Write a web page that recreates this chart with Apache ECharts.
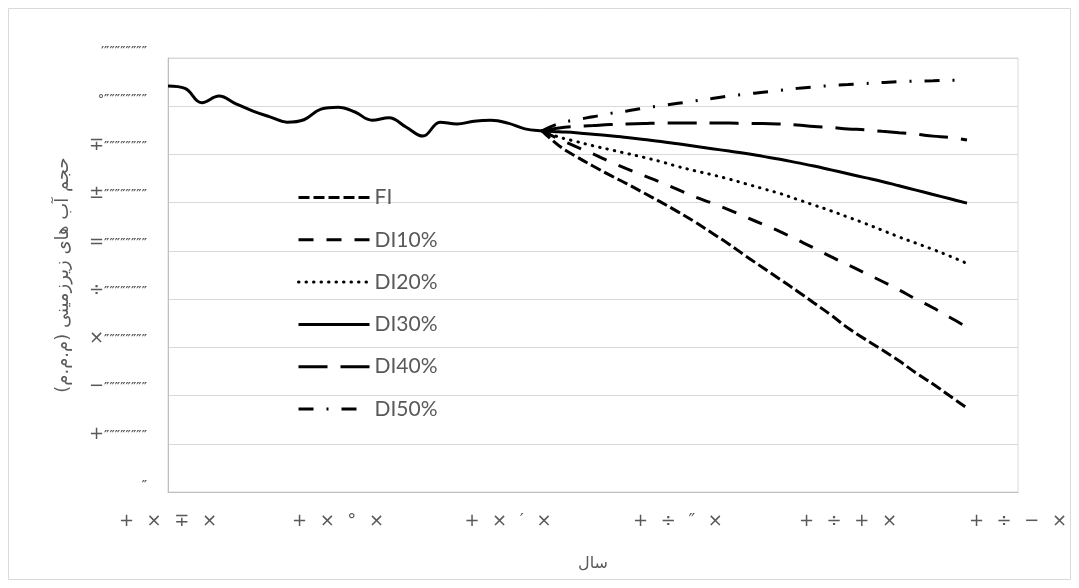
<!DOCTYPE html>
<html>
<head>
<meta charset="utf-8">
<script src="https://cdn.jsdelivr.net/npm/echarts@6/dist/echarts.min.js"></script>
<style>html,body{margin:0;padding:0;background:#fff}#c{width:1079px;height:588px}</style>
</head>
<body>
<div id="c"></div>
<script>
// Categories (Persian years)
const categories = [1373,1374,1375,1376,1377,1378,1379,1380,1381,1382,1383,1384,1385,1386,1387,1388,1389,1390,1391,1392,1393,1394,1395,1396,1397,1398,1399,1400,1401,1402,1403,1404,1405,1406,1407,1408,1409,1410,1411,1412,1413,1414,1415,1416,1417,1418,1419,1420,1421,1422,1423];

// Tick labels as they appear (symbol-font digits)
const xTickLabels = ['+×∓×','+×°×','+×′×','+÷″×','+÷+×','+÷−×'];
const yTickLabels = ['″','+″″″″″″″″','−″″″″″″″″','×″″″″″″″″','÷″″″″″″″″','=″″″″″″″″','±″″″″″″″″','∓″″″″″″″″','°″″″″″″″″','′″″″″″″″″'];

// Observed period
const historyYears = [1373,1374,1375,1376,1377,1378,1379,1380,1381,1382,1383,1384,1385,1386,1387,1388,1389,1390,1391,1392,1393,1394,1395];
const historyValues = [8.42,8.37,8.07,8.21,8.05,7.90,7.78,7.67,7.72,7.94,7.98,7.88,7.71,7.76,7.57,7.38,7.67,7.63,7.69,7.71,7.65,7.53,7.49];

// Projection period
const projYears = [1395,1396,1397,1398,1399,1400,1401,1402,1403,1404,1405,1406,1407,1408,1409,1410,1411,1412,1413,1414,1415,1416,1417,1418,1419,1420];
const fiValues    = [7.49,7.18,6.96,6.76,6.57,6.39,6.20,6.01,5.81,5.60,5.37,5.14,4.89,4.65,4.41,4.17,3.92,3.67,3.40,3.17,2.95,2.72,2.47,2.24,1.99,1.74];
const di10Values  = [7.49,7.32,7.16,7.01,6.85,6.70,6.56,6.42,6.27,6.12,5.99,5.85,5.70,5.55,5.40,5.23,5.06,4.88,4.71,4.54,4.37,4.19,4.00,3.82,3.62,3.42];
const di20Values  = [7.49,7.36,7.27,7.18,7.10,7.02,6.94,6.85,6.75,6.66,6.58,6.49,6.39,6.29,6.19,6.07,5.95,5.83,5.70,5.57,5.43,5.29,5.16,5.03,4.89,4.74];
const di30Values  = [7.49,7.47,7.45,7.42,7.39,7.35,7.31,7.27,7.22,7.17,7.12,7.07,7.02,6.96,6.90,6.83,6.76,6.68,6.60,6.52,6.44,6.35,6.26,6.17,6.08,5.99];
const di40Values  = [7.49,7.55,7.58,7.60,7.62,7.63,7.64,7.65,7.65,7.65,7.65,7.65,7.64,7.64,7.63,7.61,7.58,7.56,7.53,7.51,7.48,7.45,7.42,7.38,7.35,7.30];
const di50Values  = [7.49,7.64,7.72,7.78,7.85,7.90,7.96,8.01,8.06,8.11,8.16,8.21,8.25,8.29,8.33,8.37,8.40,8.43,8.45,8.47,8.49,8.51,8.52,8.53,8.54,8.54];

const seriesNames = ['FI','DI10%','DI20%','DI30%','DI40%','DI50%'];

function aligned(pairsList) {
  const arr = categories.map(() => null);
  pairsList.forEach(([ys, vs]) => ys.forEach((y, i) => { arr[categories.indexOf(y)] = vs[i]; }));
  return arr;
}

const lineTypes = {
  'FI':    {type: [11, 4], cap: 'butt'},
  'DI10%': {type: [15, 13], cap: 'butt'},
  'DI20%': {type: [0.5, 7], cap: 'round'},
  'DI30%': {type: 'solid', cap: 'butt'},
  'DI40%': {type: [29, 13], cap: 'butt'},
  'DI50%': {type: [15, 13, 2, 13], cap: 'butt'}
};

const dataMap = {
  'FI': aligned([[projYears, fiValues]]),
  'DI10%': aligned([[projYears, di10Values]]),
  'DI20%': aligned([[projYears, di20Values]]),
  'DI30%': aligned([[historyYears, historyValues], [projYears, di30Values]]),
  'DI40%': aligned([[projYears, di40Values]]),
  'DI50%': aligned([[projYears, di50Values]])
};

const chart = echarts.init(document.getElementById('c'), null, {renderer: 'canvas'});
chart.setOption({
  backgroundColor: '#fff',
  animation: false,
  graphic: [{
    type: 'rect', shape: {x: 8.5, y: 8.5, width: 1062, height: 571},
    style: {fill: 'none', stroke: '#d9d9d9', lineWidth: 1}, silent: true, z: -1
  }],
  grid: {left: 168, right: 61, top: 58, bottom: 96, show: true, borderColor: '#d9d9d9', borderWidth: 1, containLabel: false},
  legend: {
    orient: 'vertical', left: 297, top: 187, padding: 0,
    itemWidth: 71, itemHeight: 21, itemGap: 21.3,
    data: seriesNames,
    textStyle: {fontFamily: 'Lato', fontSize: 21, color: '#595959'},
    itemStyle: {opacity: 0},
    lineStyle: {width: 3},
    selectedMode: false
  },
  xAxis: {
    type: 'category', data: categories, boundaryGap: false,
    name: 'سال', nameLocation: 'middle', nameGap: 64,
    nameTextStyle: {fontFamily: 'DejaVu Sans', fontSize: 16, color: '#595959'},
    axisLine: {show: true, lineStyle: {color: '#bfbfbf', width: 1}},
    axisTick: {show: false},
    splitLine: {show: false},
    axisLabel: {
      interval: 9, margin: 20,
      fontFamily: 'DejaVu Sans', fontSize: 18, color: '#595959',
      formatter: (v, i) => xTickLabels[Math.round(i / 10)].split('').join('\u2002\u2009')
    }
  },
  yAxis: {
    type: 'value', min: 0, max: 9, interval: 1,
    name: 'حجم آب های زیرزمینی (م.م.م)', nameLocation: 'middle', nameGap: 96, nameRotate: 90,
    nameTextStyle: {fontFamily: 'DejaVu Sans', fontSize: 18, color: '#595959'},
    axisLine: {show: true, lineStyle: {color: '#bfbfbf', width: 1}},
    axisTick: {show: false},
    splitLine: {show: true, lineStyle: {color: '#d9d9d9', width: 1}},
    axisLabel: {
      margin: 21, verticalAlign: 'bottom',
      formatter: (v) => {
        const s = yTickLabels[Math.round(v)];
        const c = s[0];
        if (s.length === 1 || c === '′' || c === '°') return '{z|' + s + '}';
        return '{d|' + c + '}{z|' + s.slice(1) + '}';
      },
      rich: {
        d: {fontFamily: 'DejaVu Sans', fontSize: 18, color: '#595959'},
        z: {fontFamily: 'DejaVu Sans', fontSize: 12, fontWeight: 'bold', color: '#595959', padding: [3, 0, 0, 0]}
      }
    }
  },
  series: seriesNames.map(name => ({
    name, type: 'line', data: dataMap[name],
    symbol: 'none', smooth: 0.4, connectNulls: false,
    color: '#000',
    lineStyle: {color: '#000', width: 3, type: lineTypes[name].type, cap: lineTypes[name].cap}
  }))
});
</script>
</body>
</html>
